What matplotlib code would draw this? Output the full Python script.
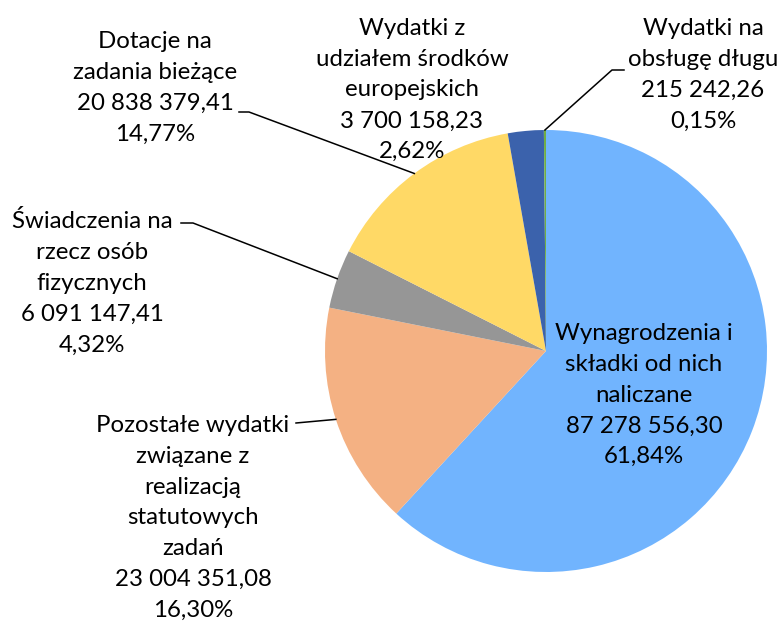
import matplotlib
matplotlib.use("Agg")
import matplotlib.pyplot as plt
import numpy as np

# Expenditure categories and amounts (PLN)
categories = [
    "Wynagrodzenia i\nskładki od nich\nnaliczane",
    "Pozostałe wydatki\nzwiązane z\nrealizacją\nstatutowych\nzadań",
    "Świadczenia na\nrzecz osób\nfizycznych",
    "Dotacje na\nzadania bieżące",
    "Wydatki z\nudziałem środków\neuropejskich",
    "Wydatki na\nobsługę długu",
]
amounts = [87278556.30, 23004351.08, 6091147.41, 20838379.41, 3700158.23, 215242.26]
colors = ["#71B4FE", "#F4B183", "#969696", "#FFD966", "#3B62AC", "#70AD47"]

W, H = 781, 628


def fmt_amount(v):
    s = f"{v:,.2f}"
    return s.replace(",", " ").replace(".", ",")


def fmt_pct(p):
    return f"{p:.2f}%".replace(".", ",")


total = sum(amounts)
labels = [f"{c}\n{fmt_amount(a)}\n{fmt_pct(a / total * 100)}" for c, a in zip(categories, amounts)]

plt.rcParams["font.family"] = ["Lato", "DejaVu Sans"]
fig = plt.figure(figsize=(W / 100, H / 100), dpi=100)
ax = fig.add_axes([0, 0, 1, 1])

cx, cy, r = 546, H - 351, 221
wedges, _ = ax.pie(amounts, colors=colors, startangle=90, counterclock=False,
                   radius=r, center=(cx, cy), frame=True,
                   wedgeprops=dict(linewidth=0))
ax.set_xlim(0, W)
ax.set_ylim(0, H)
ax.set_aspect("equal")
ax.axis("off")

# label anchor points (pixel layout), leader lines as (text side, elbow)
text_pos = [(644, 395), (193, 518), (92, 283), (155, 88), (412, 90), (703, 75)]
leaders = {
    1: [(296, 423)],
    2: [(181, 223), (193, 223)],
    3: [(239, 112), (249, 112)],
    5: [(624, 70), (612, 70)],
}

cum = np.cumsum([0] + amounts) / total
for i, (lab, (tx, ty)) in enumerate(zip(labels, text_pos)):
    ax.text(tx, H - ty, lab, ha="center", va="center", multialignment="center",
            fontsize=17.3, linespacing=1.58, color="black")
    if i in leaders:
        mid = 90 - 360 * (cum[i] + cum[i + 1]) / 2
        ex = cx + r * np.cos(np.radians(mid))
        ey = cy + r * np.sin(np.radians(mid))
        pts = [(x, H - y) for x, y in leaders[i]] + [(ex, ey)]
        xs, ys = zip(*pts)
        ax.plot(xs, ys, color="black", lw=1.1)

fig.savefig("out.png", dpi=100)
